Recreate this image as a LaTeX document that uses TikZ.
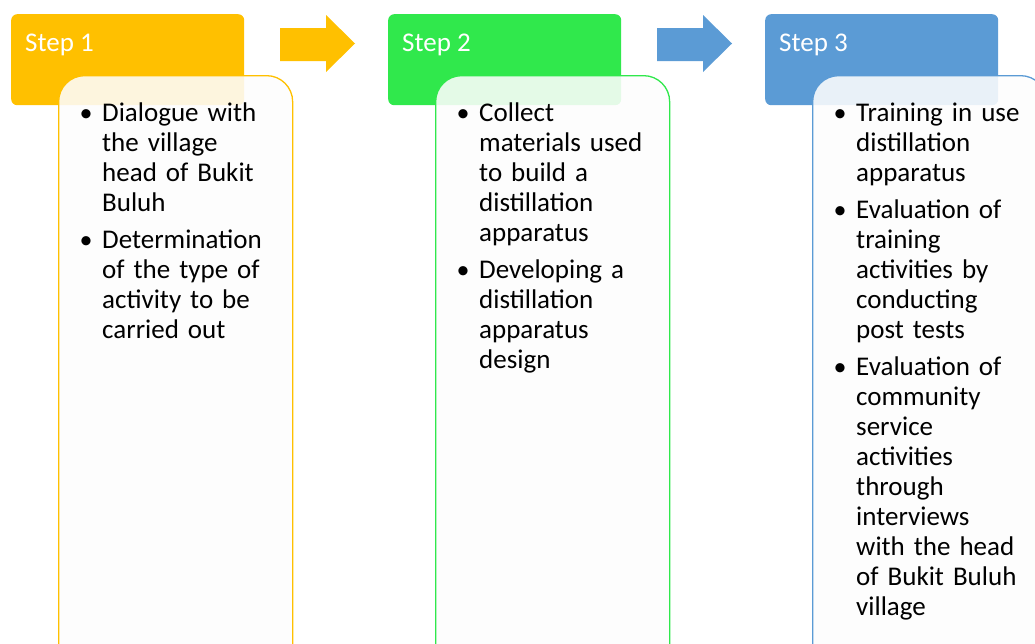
\documentclass[tikz,border=0pt]{standalone}
\usepackage{fontspec}
\setmainfont{Carlito}
\usetikzlibrary{positioning}
\definecolor{StepAmber}{HTML}{FFC000}
\definecolor{StepGreen}{HTML}{30E84C}
\definecolor{StepBlue}{HTML}{5B9BD5}
\definecolor{PanelFill}{HTML}{FDFDFD}

\newenvironment{dotlist}{%
  \begin{list}{\makebox[20pt][l]{\hspace{-2.5pt}{\fontsize{26}{26}\selectfont\textbullet}}}{%
    \setlength\leftmargin{20pt}\setlength\labelwidth{20pt}%
    \setlength\labelsep{0pt}\setlength\itemsep{7pt}%
    \setlength\parsep{0pt}\setlength\topsep{0pt}\setlength\partopsep{0pt}}}%
  {\end{list}}

\begin{document}
\begin{tikzpicture}[x=1pt, y=-1pt,
    % Style for the coloured step headers
    header/.style = {
        rectangle, rounded corners=6pt, inner sep=0pt,
        minimum width=233pt, minimum height=91pt, anchor=north west
    },
    headtext/.style = {anchor=west, inner sep=0pt, text=white,
        font=\fontsize{27}{30}\selectfont},
    % Style for the white panels with the bullet lists
    panel/.style = {
        rectangle, rounded corners=26pt, line width=1.3pt, inner sep=0pt,
        fill=PanelFill, fill opacity=0.88,
        minimum width=234pt, minimum height=600pt, anchor=north west
    },
    paneltext/.style = {anchor=north west, inner sep=0pt, text width=190pt,
        align=left, font=\fontsize{27}{30}\selectfont},
]
\useasboundingbox (0,0) rectangle (1035,643);
\clip (0,0) rectangle (1035,643);

% --- 1. HEADERS ---
\node[header, fill=StepAmber] (h1) at (11,14) {};
\node[header, fill=StepGreen] (h2) at (388,14) {};
\node[header, fill=StepBlue]  (h3) at (765,14) {};

\node[headtext] (s1) at (25,45)  {Step 1};
\node[headtext] (s2) at (402,45) {Step 2};
\node[headtext] (s3) at (779,45) {Step 3};

% --- 2. ARROWS BETWEEN STEPS ---
\fill[StepAmber] (280,28) -- (326,28) -- (326,15) -- (355,43.5)
    -- (326,72) -- (326,61) -- (280,61) -- cycle;
\fill[StepBlue]  (657,28) -- (703,28) -- (703,15) -- (732,43.5)
    -- (703,72) -- (703,61) -- (657,61) -- cycle;

% --- 3. PANELS ---
\node[panel, draw=StepAmber] (p1) at (58,75) {};
\node[panel, draw=StepGreen] (p2) at (435,75) {};
\node[panel, draw=StepBlue]  (p3) at (812,75) {};

% --- 4. BULLET LISTS ---
\node[paneltext] (t1) at (82,91) {%
  \begin{dotlist}
  \item Dialogue with\\the village\\head of Bukit\\Buluh
  \item Determination\\of the type of\\activity to be\\carried out
  \end{dotlist}};

\node[paneltext] (t2) at (459,91) {%
  \begin{dotlist}
  \item Collect\\materials used\\to build a\\distillation\\apparatus
  \item Developing a\\distillation\\apparatus\\design
  \end{dotlist}};

\node[paneltext] (t3) at (836,91) {%
  \begin{dotlist}
  \item Training in use\\distillation\\apparatus
  \item Evaluation of\\training\\activities by\\conducting\\post tests
  \item Evaluation of\\community\\service\\activities\\through\\interviews\\with the head\\of Bukit Buluh\\village
  \end{dotlist}};

\end{tikzpicture}
\end{document}
